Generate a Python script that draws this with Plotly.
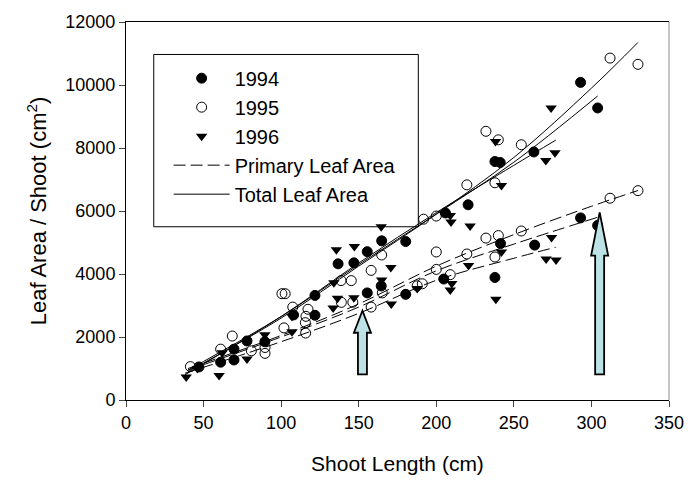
import plotly.graph_objects as go

# ---------------- data ----------------
x1994 = [47, 61, 69.6, 69.6, 78, 89.5, 108, 121.8, 121.8, 136.7, 146.9, 155.5, 155.5,
         164.8, 164.5, 180.3, 180.3, 204.8, 205.9, 220.5, 237.8, 241.2, 262.9, 237.8,
         241.4, 263.4, 293, 304, 293, 304]
y1994 = [1050, 1200, 1270, 1614, 1875, 1850, 2700, 2690, 3320, 4323, 4354, 4708, 3400,
         5052, 3620, 5031, 3354, 3840, 5937, 6198, 7570, 7540, 7875, 3890,
         4965, 4917, 10083, 9271, 5781, 5542]

x1995 = [41.5, 61, 68.5, 80.8, 89.6, 89.6, 100.5, 102.6, 101.8, 107.5, 117.3, 116, 115.6,
         115.8, 138.6, 145.2, 158, 158, 164.8, 165.2, 138.8, 146.2, 187.7, 191, 191.8,
         200, 200, 200, 209, 219.7, 219.7, 232, 237.8, 240, 254.8, 237.8, 232, 240,
         254.8, 312, 330, 312, 330]
y1995 = [1060, 1615, 2031, 1562, 1667, 1480, 3375, 3375, 2290, 2950, 2880, 2656, 2455,
         2125, 3790, 3790, 4115, 2950, 4604, 3400, 3100, 3104, 3625, 3690, 5740,
         5840, 4700, 4146, 3979, 6830, 4635, 8530, 6896, 8260, 8104, 4540, 5140, 5220,
         5365, 10854, 10656, 6406, 6646]

x1996 = [38.8, 46, 60, 62, 78, 89.5, 107, 107, 134, 135.6, 147.2, 136.3, 146.9, 133.5,
         164.5, 164.8, 170.7, 171, 187.7, 209, 209.5, 209, 221.8, 220.8, 210, 238.2,
         242, 242, 238.4, 270.6, 276.5, 274.3, 270.8, 277.2, 274]
y1996 = [730, 1000, 781, 1500, 1300, 2070, 2650, 2170, 3720, 4770, 4875, 3229, 3250, 2920,
         5500, 3810, 4208, 3047, 3540, 3490, 5650, 5860, 5521, 4271, 3698, 8208,
         6810, 4700, 3198, 7600, 7850, 5156, 4479, 4448, 9271]

# regression lines
tot94_x = [40, 100, 150, 200, 250, 304]
tot94_y = [950, 2650, 4300, 5900, 7550, 9650]
tot95_x = [40, 100, 150, 200, 250, 300, 330]
tot95_y = [900, 2600, 4250, 5900, 7700, 9900, 11350]
tot96_x = [38, 100, 150, 200, 250, 277]
tot96_y = [800, 2650, 4350, 5950, 7450, 8250]

pri94_x = [40, 100, 150, 200, 250, 304]
pri94_y = [950, 2000, 2950, 4100, 4950, 5800]
pri95_x = [40, 100, 150, 200, 250, 300, 330]
pri95_y = [1000, 2050, 3050, 4250, 5250, 6150, 6650]
pri96_x = [38, 100, 150, 200, 250, 277]
pri96_y = [850, 1850, 2750, 3800, 4500, 4850]

# arrows (centre x, tip y, head-base y, tail y)
arrow_x = [152.4, 305.3]
arrow_tip = [2833, 5958]
arrow_head = [2135, 4583]
arrow_tail = [812, 812]

x_ticks = [0, 50, 100, 150, 200, 250, 300, 350]
y_ticks = [0, 2000, 4000, 6000, 8000, 10000, 12000]

FONT = "Liberation Sans, Arial, sans-serif"

fig = go.Figure()

msize = 10
fig.add_trace(go.Scatter(x=x1994, y=y1994, mode="markers", name="1994", legendgroup="a",
                         marker=dict(symbol="circle", size=msize, color="black",
                                     line=dict(color="black", width=1))))
fig.add_trace(go.Scatter(x=x1995, y=y1995, mode="markers", name="1995", legendgroup="b",
                         marker=dict(symbol="circle-open", size=msize, color="black",
                                     line=dict(color="black", width=1))))
fig.add_trace(go.Scatter(x=x1996, y=y1996, mode="markers", name="1996", legendgroup="c",
                         marker=dict(symbol="triangle-down", size=msize, color="black",
                                     line=dict(color="black", width=0))))

dash = "12px,5px"
for i, (xx, yy) in enumerate([(pri94_x, pri94_y), (pri95_x, pri95_y), (pri96_x, pri96_y)]):
    fig.add_trace(go.Scatter(x=xx, y=yy, mode="lines", name="Primary Leaf Area",
                             legendgroup="d", showlegend=(i == 0),
                             line=dict(color="black", width=1, dash=dash, shape="spline")))
for i, (xx, yy) in enumerate([(tot94_x, tot94_y), (tot95_x, tot95_y), (tot96_x, tot96_y)]):
    fig.add_trace(go.Scatter(x=xx, y=yy, mode="lines", name="Total Leaf Area",
                             legendgroup="e", showlegend=(i == 0),
                             line=dict(color="black", width=1, shape="spline")))

shapes = []
for ax, tip, head, tail in zip(arrow_x, arrow_tip, arrow_head, arrow_tail):
    hw, HW = 2.9, 5.5
    path = (f"M {ax-hw},{tail} L {ax+hw},{tail} L {ax+hw},{head} L {ax+HW},{head} "
            f"L {ax},{tip} L {ax-HW},{head} L {ax-hw},{head} Z")
    shapes.append(dict(type="path", xref="x", yref="y", path=path,
                       fillcolor="#bde2e5", line=dict(color="black", width=1.8)))

# legend frame
shapes.append(dict(type="rect", xref="paper", yref="paper",
                   x0=0.0511, x1=0.5383, y0=0.4583, y1=0.9141,
                   line=dict(color="black", width=1), fillcolor="rgba(0,0,0,0)"))
# right frame edge (lighter grey in the reference)
shapes.append(dict(type="line", xref="paper", yref="paper", x0=1, x1=1, y0=0, y1=1,
                   line=dict(color="#8c8c8c", width=1)))

fig.update_layout(
    width=696, height=490,
    margin=dict(l=126, r=22, t=16, b=90),
    paper_bgcolor="white", plot_bgcolor="white",
    font=dict(family=FONT, color="black"),
    showlegend=True,
    legend=dict(x=0.0785, y=0.903, xanchor="left", yanchor="top",
                bgcolor="rgba(0,0,0,0)", borderwidth=0,
                font=dict(size=20, family=FONT), itemwidth=56,
                tracegroupgap=0, traceorder="grouped"),
    shapes=shapes,
    xaxis=dict(range=[0, 350], tickvals=x_ticks, ticks="outside", ticklen=6,
               showline=True, linecolor="black", linewidth=1, mirror=True,
               showgrid=False, zeroline=False, tickfont=dict(size=18),
               title=dict(text="Shoot Length (cm)", font=dict(size=21), standoff=24)),
    yaxis=dict(range=[0, 12000], tickvals=y_ticks, tickformat="d", ticks="outside",
               ticklen=6, showline=True, linecolor="black", linewidth=1, mirror=False,
               showgrid=False, zeroline=False, tickfont=dict(size=18),
               title=dict(text="Leaf Area / Shoot (cm<sup>2</sup>)", font=dict(size=22),
                          standoff=12)),
)

fig.write_html("out.html")
